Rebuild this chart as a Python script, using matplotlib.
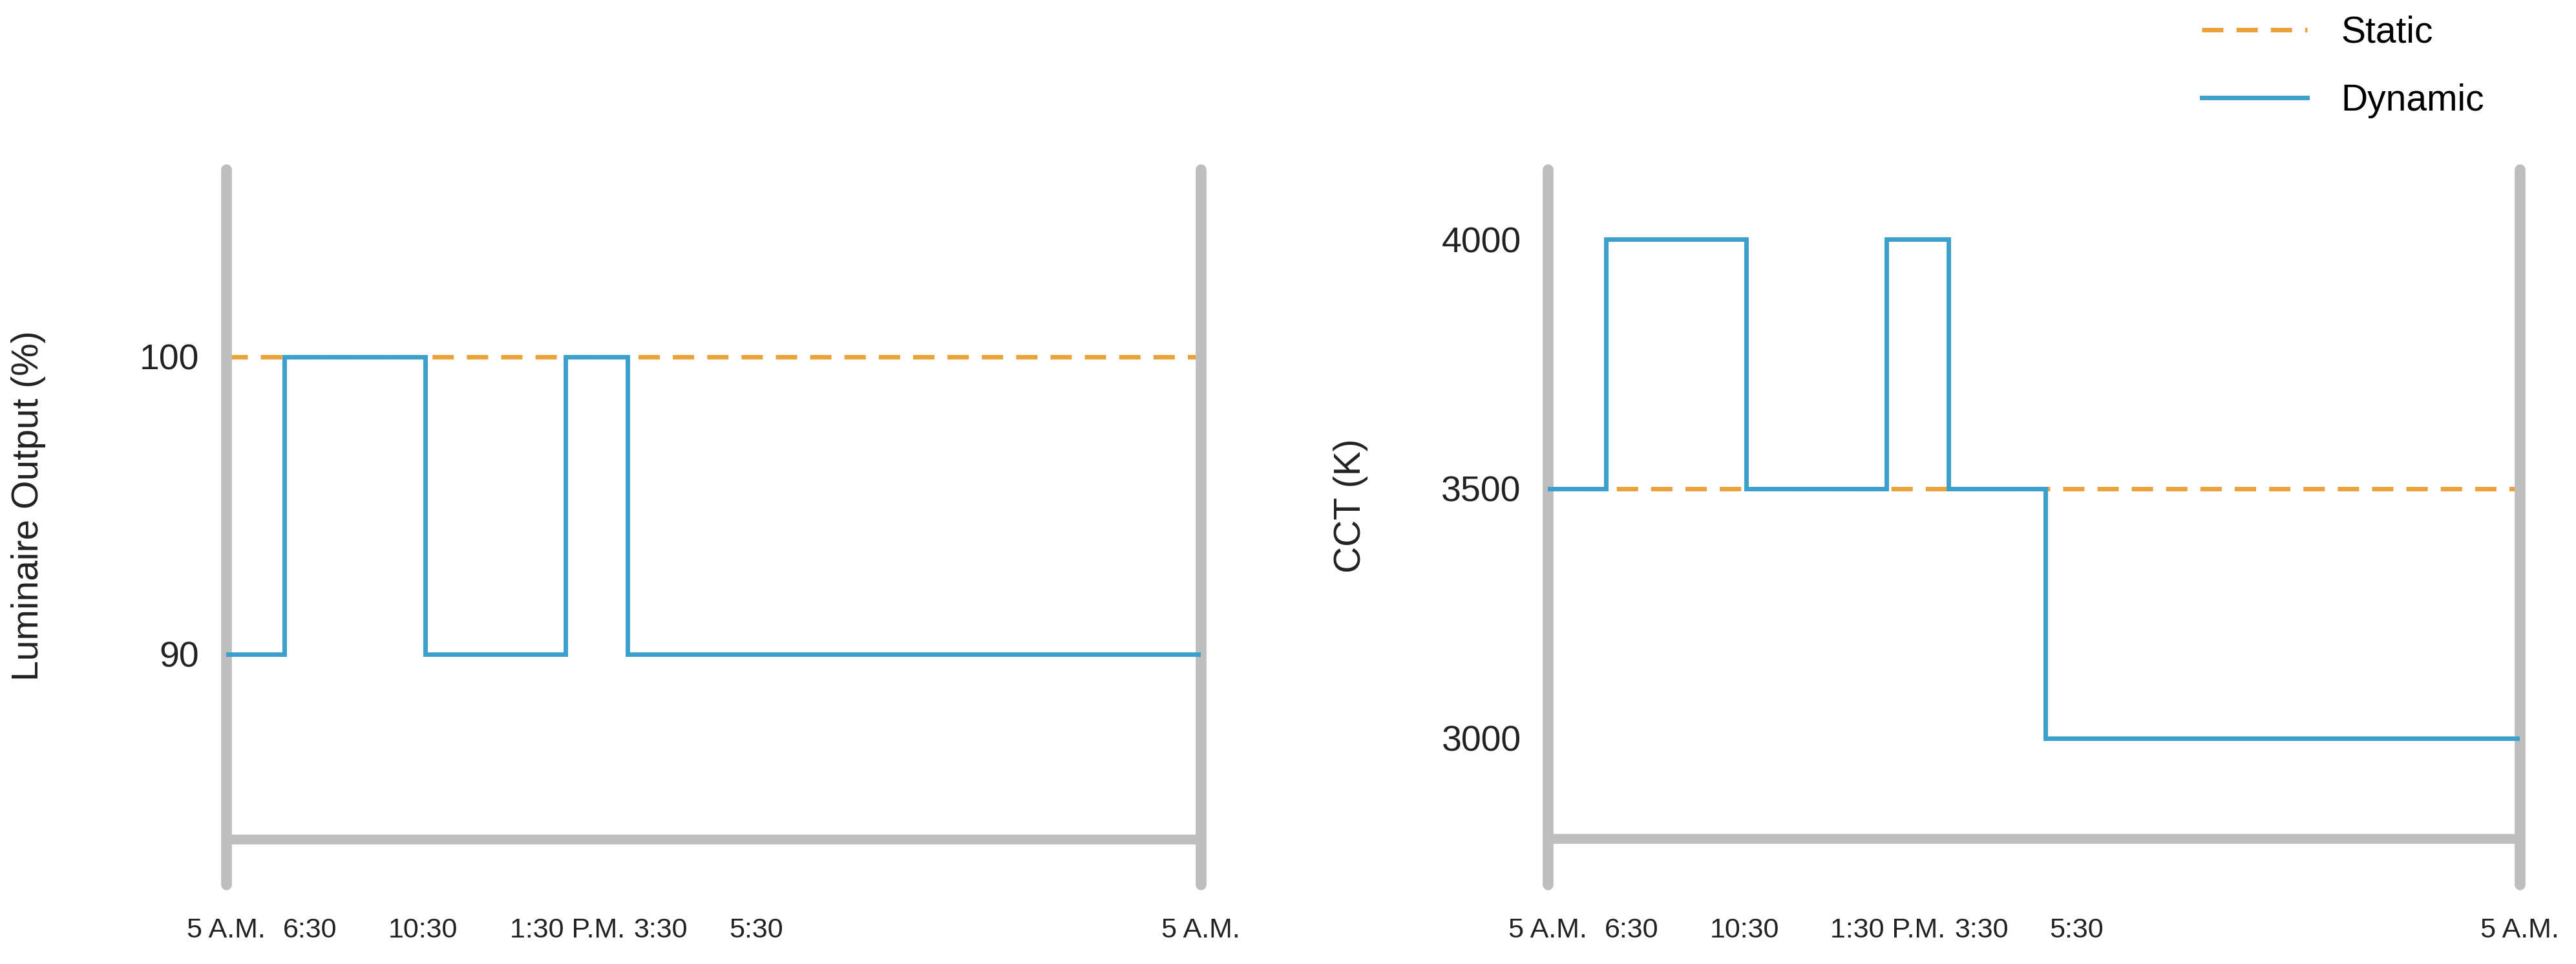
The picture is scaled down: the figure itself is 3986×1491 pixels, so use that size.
import matplotlib
matplotlib.use('Agg')
import matplotlib.pyplot as plt
from matplotlib.lines import Line2D

plt.rcParams['font.family'] = ['Liberation Sans', 'DejaVu Sans']

# time axis (relative position across the day, 0 = 5 A.M., 100 = next 5 A.M.)
time_labels = ['5 A.M.', '6:30', '10:30', '1:30 P.M.', '3:30', '5:30', '5 A.M.']
label_pos = [0, 8.6, 20.2, 35.0, 44.6, 54.4, 100]

# luminaire output (%)
lum_x = [0, 6.0, 20.4, 34.8, 41.2, 100]
lum_dynamic = [90, 100, 90, 100, 90, 90]
lum_static = 100
lum_ticks = [90, 100]

# CCT (K)
cct_x = [0, 6.0, 20.4, 34.8, 41.2, 51.2, 100]
cct_dynamic = [3500, 4000, 3500, 4000, 3500, 3000, 3000]
cct_static = 3500
cct_ticks = [3000, 3500, 4000]

blue = '#3ba0cc'
orange = '#eba23a'
gray = '#bebebf'
txt = '#222222'

fig = plt.figure(figsize=(39.86, 14.91), dpi=100)
ax1 = fig.add_axes([0.0878, 0.0825, 0.3783, 0.7418])
ax2 = fig.add_axes([0.6009, 0.0825, 0.3773, 0.7418])


def setup(ax, xs, dyn, stat, yticks, ylim, base, ylabel):
    ax.plot([xs[0], xs[-1]], [stat, stat], color=orange, lw=5,
            linestyle=(0, (4.75, 2.9)), zorder=2)
    ax.step(xs, dyn, where='post', color=blue, lw=5, zorder=3,
            solid_joinstyle='miter')
    ax.axhline(base, color=gray, lw=11, solid_capstyle='round', zorder=1)
    ax.set_xlim(0, 100)
    ax.set_ylim(*ylim)
    ax.set_xticks(label_pos)
    ax.set_xticklabels(time_labels)
    ax.set_yticks(yticks)
    ax.tick_params(axis='x', length=0, pad=37, labelsize=31, labelcolor=txt)
    ax.tick_params(axis='y', length=0, pad=30, labelsize=40, labelcolor=txt)
    for s in ['top', 'bottom']:
        ax.spines[s].set_visible(False)
    for s in ['left', 'right']:
        ax.spines[s].set_color(gray)
        ax.spines[s].set_linewidth(12)
        ax.spines[s].set_capstyle('round')
    ax.set_ylabel(ylabel, fontsize=41, color=txt, va='center')
    ax.yaxis.set_label_coords(-0.203, 0.53)


setup(ax1, lum_x, lum_dynamic, lum_static, lum_ticks, (82.26, 106.3), 83.78,
      'Luminaire Output (%)')
setup(ax2, cct_x, cct_dynamic, cct_static, cct_ticks, (2707, 4140), 2799,
      'CCT (K)')

handles = [Line2D([], [], color=orange, lw=5, linestyle=(0, (4.75, 2.9))),
           Line2D([], [], color=blue, lw=5)]
fig.legend(handles, ['Static', 'Dynamic'], loc='upper left',
           bbox_to_anchor=(0.8548, 0.984), frameon=False, fontsize=41,
           handlelength=2.85, handletextpad=0.93, labelspacing=0.9,
           borderpad=0, borderaxespad=0)

fig.savefig('out.png', dpi=100, facecolor='white')
